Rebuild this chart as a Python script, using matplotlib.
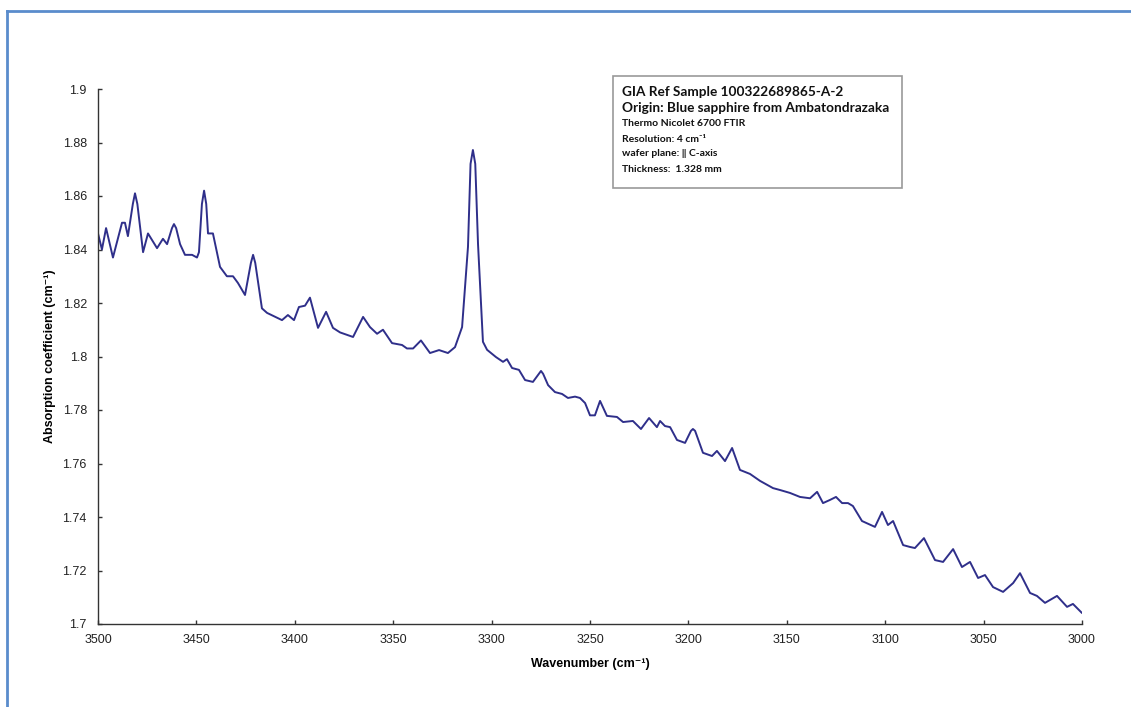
"""
FTIR absorption spectrum of a blue sapphire (GIA reference sample).
"""

import matplotlib
matplotlib.use("Agg")
import matplotlib.pyplot as plt
from matplotlib.lines import Line2D
from matplotlib.patches import Rectangle
from matplotlib.ticker import MultipleLocator, FuncFormatter

# wavenumber (cm-1) and absorption coefficient
WAVENUMBER = [
    3500.0, 3498.0, 3495.9, 3492.4, 3487.8, 3486.3, 3484.8, 3482.3, 3481.2, 3480.0,
    3477.1, 3474.6, 3470.0, 3467.0, 3464.9, 3462.4, 3461.4, 3460.3, 3458.3, 3455.8,
    3452.2, 3449.7, 3448.7, 3447.2, 3446.1, 3445.0, 3444.1, 3441.6, 3438.0, 3434.5,
    3431.4, 3428.9, 3425.3, 3422.3, 3421.2, 3420.1, 3416.7, 3414.1, 3406.5, 3403.5,
    3400.4, 3397.9, 3394.8, 3392.3, 3388.2, 3384.1, 3380.6, 3377.0, 3370.4, 3365.3,
    3361.8, 3358.2, 3355.2, 3350.6, 3345.5, 3343.0, 3339.9, 3335.9, 3331.3, 3326.7,
    3322.2, 3318.6, 3315.0, 3312.0, 3310.7, 3309.5, 3308.3, 3306.9, 3304.4, 3302.3,
    3297.8, 3294.2, 3292.2, 3289.6, 3286.1, 3283.0, 3279.0, 3276.0, 3274.9, 3273.8,
    3271.3, 3267.8, 3264.2, 3261.2, 3257.6, 3255.1, 3252.5, 3250.0, 3247.5, 3244.9,
    3241.4, 3236.3, 3233.2, 3228.2, 3224.1, 3220.0, 3216.0, 3214.4, 3211.9, 3209.3,
    3205.8, 3201.7, 3198.7, 3197.7, 3196.6, 3192.6, 3188.0, 3185.5, 3181.4, 3177.8,
    3173.8, 3168.7, 3163.6, 3157.0, 3153.5, 3148.4, 3143.3, 3138.2, 3134.6, 3131.6,
    3128.0, 3125.0, 3121.9, 3118.9, 3116.4, 3111.8, 3105.2, 3101.6, 3098.6, 3096.0,
    3090.9, 3087.4, 3084.9, 3080.3, 3074.7, 3070.6, 3065.5, 3061.0, 3056.9, 3052.8,
    3049.3, 3045.2, 3040.1, 3035.0, 3031.5, 3026.4, 3022.9, 3018.8, 3012.7, 3007.6,
    3004.6, 3000.0,
]
ABSORPTION = [
    1.846, 1.840, 1.848, 1.837, 1.850, 1.850, 1.845, 1.857, 1.861, 1.857,
    1.839, 1.846, 1.8405, 1.844, 1.842, 1.848, 1.8495, 1.848, 1.842, 1.838,
    1.838, 1.837, 1.839, 1.857, 1.862, 1.857, 1.846, 1.846, 1.8335, 1.830,
    1.830, 1.8275, 1.823, 1.835, 1.838, 1.835, 1.818, 1.8163, 1.8136, 1.8155,
    1.8136, 1.8185, 1.819, 1.822, 1.8107, 1.8167, 1.8107, 1.809, 1.8073, 1.8148,
    1.811, 1.8085, 1.810, 1.805, 1.8043, 1.803, 1.803, 1.806, 1.8013, 1.8024,
    1.8013, 1.8035, 1.811, 1.841, 1.872, 1.8772, 1.872, 1.842, 1.8055, 1.8025,
    1.7998, 1.798, 1.799, 1.7957, 1.795, 1.7912, 1.7905, 1.7935, 1.7946, 1.7935,
    1.7893, 1.7867, 1.786, 1.7845, 1.785, 1.7845, 1.7826, 1.778, 1.778, 1.7834,
    1.7778, 1.7774, 1.7755, 1.7759, 1.7729, 1.777, 1.7736, 1.7759, 1.774, 1.7736,
    1.7688, 1.7677, 1.7722, 1.7729, 1.7722, 1.764, 1.7628, 1.7647, 1.7609, 1.7658,
    1.7576, 1.7561, 1.7535, 1.7508, 1.7501, 1.749, 1.7475, 1.747, 1.7494, 1.7452,
    1.7464, 1.7475, 1.7452, 1.7452, 1.7441, 1.7385, 1.7363, 1.7419, 1.737, 1.7385,
    1.7295, 1.7288, 1.7284, 1.7321, 1.7239, 1.7232, 1.728, 1.7213, 1.7232, 1.7172,
    1.7183, 1.7138, 1.712, 1.7153, 1.719, 1.7116, 1.7105, 1.7079, 1.7105, 1.7064,
    1.7075, 1.7041,
]

INFO_TITLE = ["GIA Ref Sample 100322689865-A-2",
              "Origin: Blue sapphire from Ambatondrazaka"]
INFO_LINES = ["Thermo Nicolet 6700 FTIR",
              "Resolution: 4 cm\u207b\u00b9",
              "wafer plane: \u2016 C-axis",
              "Thickness:  1.328 mm"]

W, H = 1131, 707

fig = plt.figure(figsize=(W / 100, H / 100), dpi=100)
ax = fig.add_axes([98 / W, 1 - 624 / H, (1082 - 98) / W, (624 - 89) / H])

ax.plot(WAVENUMBER, ABSORPTION, color="#2f2f8a", linewidth=1.4,
        solid_joinstyle="round", solid_capstyle="round")

ax.set_xlim(3500, 3000)
ax.set_ylim(1.7, 1.9)
ax.xaxis.set_major_locator(MultipleLocator(50))
ax.yaxis.set_major_locator(MultipleLocator(0.02))
ax.yaxis.set_major_formatter(FuncFormatter(lambda v, _: f"{v:g}"))

for side in ("top", "right"):
    ax.spines[side].set_visible(False)
for side in ("left", "bottom"):
    ax.spines[side].set_linewidth(1.0)
    ax.spines[side].set_color("#333333")

tick_font = ["Liberation Sans", "DejaVu Sans"]
ax.tick_params(axis="both", direction="in", length=3, width=1.0, color="#333333",
               labelsize=9, labelcolor="#222222")
ax.tick_params(axis="x", pad=7)
ax.tick_params(axis="y", pad=8)
for lab in ax.get_xticklabels() + ax.get_yticklabels():
    lab.set_family(tick_font)

ax.set_xlabel("Wavenumber (cm\u207b\u00b9)", fontsize=9, fontweight="bold",
              family=tick_font, labelpad=9)
ax.set_ylabel("Absorption coefficient (cm\u207b\u00b9)", fontsize=9, fontweight="bold",
              family=tick_font, labelpad=5)

# info box
box_font = ["Lato", "DejaVu Sans"]
fig.add_artist(Rectangle((613 / W, 1 - 188 / H), (902 - 613) / W, (188 - 76) / H,
                         transform=fig.transFigure, facecolor="white",
                         edgecolor="#999999", linewidth=1.2))
for i, line in enumerate(INFO_TITLE):
    fig.text(622 / W, 1 - (92.5 + 16 * i) / H, line, fontsize=9.8, fontweight="bold",
             family=box_font, va="center", ha="left", color="#111111")
for i, line in enumerate(INFO_LINES):
    fig.text(622 / W, 1 - (124 + 15 * i) / H, line, fontsize=7.5, fontweight="bold",
             family=box_font, va="center", ha="left", color="#111111")

# light blue page frame (top and left edges)
frame = "#5a8ccc"
fig.add_artist(Line2D([7 / W, 1], [1 - 11 / H, 1 - 11 / H], transform=fig.transFigure,
                      color=frame, linewidth=2))
fig.add_artist(Line2D([7 / W, 7 / W], [0, 1 - 11 / H], transform=fig.transFigure,
                      color=frame, linewidth=2))

fig.savefig("out.png", dpi=100)
